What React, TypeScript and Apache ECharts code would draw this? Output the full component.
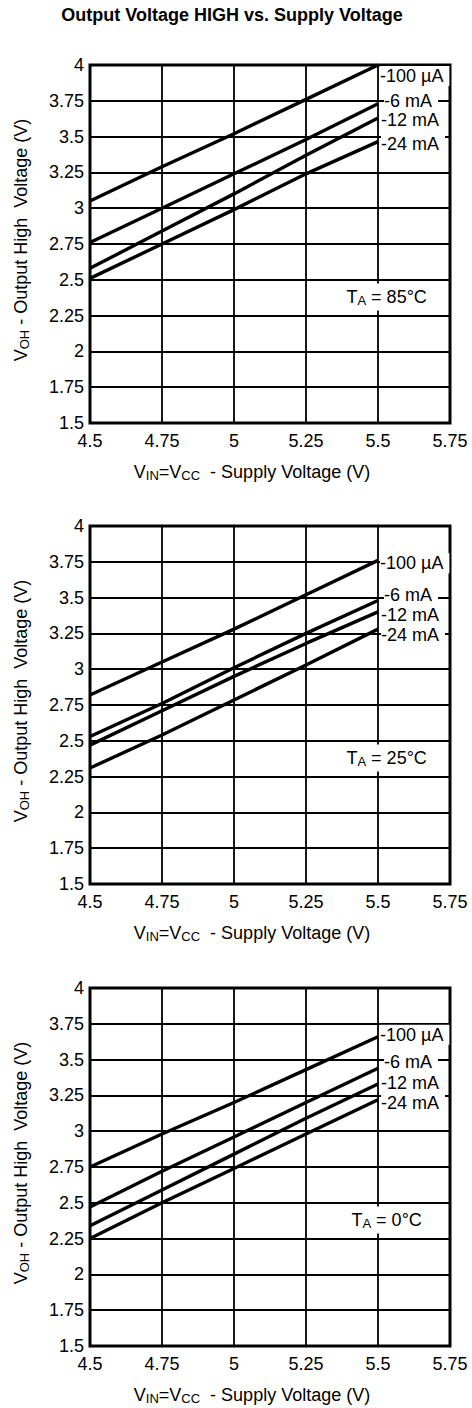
import React, { useEffect, useRef } from "react";
import * as echarts from "echarts";

const FONT = "'Liberation Sans', Arial, Helvetica, sans-serif";

const titleText = "Output Voltage HIGH vs. Supply Voltage";
const xTickLabels = ["4.5", "4.75", "5", "5.25", "5.5", "5.75"];
const yTickLabels = ["1.5", "1.75", "2", "2.25", "2.5", "2.75", "3", "3.25", "3.5", "3.75", "4"];
const seriesNames = ["-100 µA", "-6 mA", "-12 mA", "-24 mA"];
const supplyVoltage = [4.5, 4.75, 5, 5.25, 5.5];

// TA = 85°C
const t85_100uA = [3.05, 3.29, 3.52, 3.76, 4.0];
const t85_6mA = [2.76, 3.0, 3.24, 3.48, 3.73];
const t85_12mA = [2.58, 2.84, 3.1, 3.37, 3.63];
const t85_24mA = [2.51, 2.75, 2.99, 3.24, 3.465];

// TA = 25°C
const t25_100uA = [2.82, 3.05, 3.28, 3.52, 3.76];
const t25_6mA = [2.53, 2.76, 3.01, 3.25, 3.48];
const t25_12mA = [2.47, 2.71, 2.95, 3.18, 3.4];
const t25_24mA = [2.31, 2.54, 2.785, 3.03, 3.28];

// TA = 0°C
const t0_100uA = [2.75, 2.98, 3.2, 3.43, 3.66];
const t0_6mA = [2.47, 2.72, 2.96, 3.2, 3.44];
const t0_12mA = [2.34, 2.59, 2.84, 3.09, 3.33];
const t0_24mA = [2.25, 2.5, 2.74, 2.98, 3.22];

const panelTemps = ["85°C", "25°C", "0°C"];
const panelData = [
  [t85_100uA, t85_6mA, t85_12mA, t85_24mA],
  [t25_100uA, t25_6mA, t25_12mA, t25_24mA],
  [t0_100uA, t0_6mA, t0_12mA, t0_24mA],
];
const tempLabelCoord = [5.53, 2.38];

// label offsets (layout only)
const labelOffsets = [
  [[0, 11], [4, -3], [1, 2], [1, 2]],
  [[0, 3], [4, -5], [1, 3], [1, 6]],
  [[0, -2], [4, -6], [1, -1], [1, 3]],
];

const gridTops = [65, 526, 988];

export default function App() {
  const ref = useRef<HTMLDivElement>(null);

  useEffect(() => {
    if (!ref.current) return;
    const chart = echarts.init(ref.current, null, { renderer: "svg" });

    const richStyles = {
      v: { fontSize: 18, fontFamily: FONT, color: "#000", lineHeight: 21 },
      s: { fontSize: 13, fontFamily: FONT, color: "#000", lineHeight: 12, verticalAlign: "bottom" },
    };

    const grids: any[] = [];
    const xAxes: any[] = [];
    const yAxes: any[] = [];
    const series: any[] = [];

    gridTops.forEach((top, gi) => {
      grids.push({
        left: 90,
        top,
        width: 360,
        height: 358,
        show: true,
        borderColor: "#000",
        borderWidth: 3,
        backgroundColor: "#fff",
      });
      xAxes.push({
        gridIndex: gi,
        type: "value",
        min: 4.5,
        max: 5.75,
        interval: 0.25,
        axisLine: { show: false },
        axisTick: { show: false },
        splitLine: { show: true, lineStyle: { color: "#000", width: 1.8 } },
        axisLabel: {
          color: "#000",
          fontSize: 18,
          fontFamily: FONT,
          margin: 9,
          formatter: (v: number) => xTickLabels[Math.round((v - 4.5) / 0.25)] ?? "",
        },
        name: "{v|V}{s|IN}{v|=V}{s|CC}{v|  - Supply Voltage (V)}",
        nameLocation: "middle",
        nameGap: 38,
        nameTextStyle: {
          padding: [0, 36, 0, 0],
          rich: richStyles,
        },
      });
      yAxes.push({
        gridIndex: gi,
        type: "value",
        min: 1.5,
        max: 4,
        interval: 0.25,
        axisLine: { show: false },
        axisTick: { show: false },
        splitLine: { show: true, lineStyle: { color: "#000", width: 1.8 } },
        axisLabel: {
          color: "#000",
          fontSize: 18,
          fontFamily: FONT,
          margin: 6,
          formatter: (v: number) => yTickLabels[Math.round((v - 1.5) / 0.25)] ?? "",
        },
        name: "{v|V}{s|OH}{v| - Output High  Voltage (V)}",
        nameLocation: "middle",
        nameGap: 59,
        nameTextStyle: {
          padding: [0, 0, 0, 8],
          rich: richStyles,
        },
      });

      panelData[gi].forEach((vals, si) => {
        const s: any = {
          type: "line",
          name: seriesNames[si] + " " + gi,
          xAxisIndex: gi,
          yAxisIndex: gi,
          data: supplyVoltage.map((x, j) => [x, vals[j]]),
          symbol: "none",
          silent: true,
          z: 5,
          lineStyle: { color: "#000", width: 3.4 },
          endLabel: {
            show: true,
            formatter: () => seriesNames[si],
            color: "#000",
            fontSize: 18,
            fontFamily: FONT,
            distance: 2,
            offset: labelOffsets[gi][si],
            backgroundColor: "#fff",
            padding: [1, 6, 1, 0],
          },
        };
        if (si === 0) {
          s.markPoint = {
            silent: true,
            symbol: "rect",
            symbolSize: 0,
            data: [
              {
                coord: tempLabelCoord,
                label: {
                  show: true,
                  position: "inside",
                  formatter: "{v|T}{s|A}{v| = " + panelTemps[gi] + "}",
                  backgroundColor: "#fff",
                  padding: [3, 3, 3, 3],
                  rich: richStyles,
                },
              },
            ],
          };
        }
        series.push(s);
      });
    });

    chart.setOption({
      animation: false,
      backgroundColor: "#fff",
      graphic: [
        {
          type: "text",
          x: 232,
          y: 15,
          style: {
            text: titleText,
            fontSize: 18,
            fontWeight: "bold",
            fontFamily: FONT,
            fill: "#000",
            align: "center",
            verticalAlign: "middle",
          },
        },
      ],
      grid: grids,
      xAxis: xAxes,
      yAxis: yAxes,
      series,
    });

    return () => chart.dispose();
  }, []);

  return (
    <div
      ref={ref}
      style={{ position: "absolute", left: 0, top: 0, width: 472, height: 1408 }}
    />
  );
}
